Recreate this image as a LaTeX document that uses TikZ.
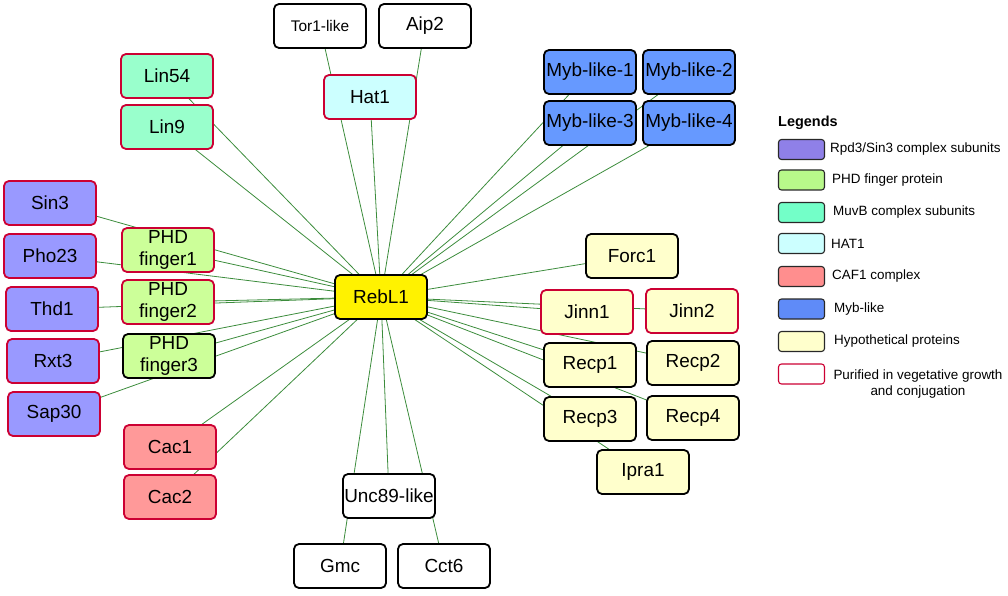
\documentclass[tikz,border=0pt]{standalone}
\usepackage{fontspec}
\setmainfont{Liberation Sans}
\usetikzlibrary{backgrounds}
\definecolor{edgegreen}{RGB}{60,140,60}
\definecolor{redb}{RGB}{204,0,51}
\definecolor{rpd}{RGB}{153,153,255}
\definecolor{rpdleg}{RGB}{143,128,232}
\definecolor{phd}{RGB}{204,255,153}
\definecolor{phdleg}{RGB}{184,248,138}
\definecolor{muvb}{RGB}{153,255,204}
\definecolor{muvbleg}{RGB}{115,255,200}
\definecolor{hat}{RGB}{204,255,255}
\definecolor{caf}{RGB}{255,153,153}
\definecolor{cafleg}{RGB}{255,142,142}
\definecolor{myb}{RGB}{102,153,255}
\definecolor{mybleg}{RGB}{95,139,248}
\definecolor{hyp}{RGB}{255,255,204}
\definecolor{legborder}{RGB}{40,40,40}
\tikzset{
  box/.style={draw=black, rounded corners=5bp, minimum width=92bp, minimum height=44bp,
    line width=1.8bp, font=\fontsize{19}{22}\selectfont, align=center, inner sep=0pt},
  redbox/.style={box, draw=redb},
  link/.style={draw=edgegreen, line width=0.8bp},
  legbox/.style={draw=legborder, rounded corners=3bp, minimum width=46bp, minimum height=20bp,
    line width=1.1bp, inner sep=0pt},
  legtext/.style={anchor=west, font=\fontsize{13.5}{16}\selectfont, inner sep=0pt},
}
\begin{document}
\begin{tikzpicture}[x=1bp, y=-1bp]
\useasboundingbox (0,0) rectangle (1008,596);
% centre
\node[box, fill=yellow] (rebl1) at (381,297) {RebL1};
% top
\node[box, fill=white, font=\fontsize{15.5}{18}\selectfont] (tor1) at (320,26) {Tor1-like};
\node[box, fill=white] (aip2) at (425,26) {Aip2};
\node[redbox, fill=hat] (hat1) at (370,97) {Hat1};
\node[redbox, fill=muvb] (lin54) at (167,76) {Lin54};
\node[redbox, fill=muvb] (lin9) at (167,127) {Lin9};
\node[box, fill=myb] (myb1) at (590,72) {Myb-like-1};
\node[box, fill=myb] (myb2) at (689,72) {Myb-like-2};
\node[box, fill=myb] (myb3) at (590,123) {Myb-like-3};
\node[box, fill=myb] (myb4) at (689,123) {Myb-like-4};
% left
\node[redbox, fill=rpd] (sin3) at (50,203) {Sin3};
\node[redbox, fill=rpd] (pho23) at (50,256) {Pho23};
\node[redbox, fill=rpd] (thd1) at (52,309) {Thd1};
\node[redbox, fill=rpd] (rxt3) at (53,361) {Rxt3};
\node[redbox, fill=rpd] (sap30) at (54,414) {Sap30};
\node[redbox, fill=phd] (phd1) at (168,250) {PHD\\finger1};
\node[redbox, fill=phd] (phd2) at (168,302) {PHD\\finger2};
\node[box, fill=phd] (phd3) at (169,356) {PHD\\finger3};
\node[redbox, fill=caf] (cac1) at (170,447) {Cac1};
\node[redbox, fill=caf] (cac2) at (170,497) {Cac2};
% bottom
\node[box, fill=white] (unc89) at (389,496) {Unc89-like};
\node[box, fill=white] (gmc) at (340,566) {Gmc};
\node[box, fill=white] (cct6) at (444,566) {Cct6};
% right
\node[box, fill=hyp] (forc1) at (632,256) {Forc1};
\node[redbox, fill=hyp] (jinn1) at (587,312) {Jinn1};
\node[redbox, fill=hyp] (jinn2) at (692,311) {Jinn2};
\node[box, fill=hyp] (recp1) at (590,365) {Recp1};
\node[box, fill=hyp] (recp2) at (693,363) {Recp2};
\node[box, fill=hyp] (recp3) at (590,419) {Recp3};
\node[box, fill=hyp] (recp4) at (693,418) {Recp4};
\node[box, fill=hyp] (ipra1) at (643,472) {Ipra1};
% connectors
\begin{scope}[on background layer]
\foreach \n in {tor1,aip2,hat1,lin54,lin9,myb1,myb2,myb3,myb4,sin3,pho23,thd1,rxt3,sap30,phd1,phd2,phd3,cac1,cac2,unc89,gmc,cct6,forc1,jinn1,jinn2,recp1,recp2,recp3,recp4,ipra1}
  \draw[link] (rebl1.center) -- (\n.center);
\end{scope}
% legend
\node[anchor=west, font=\bfseries\fontsize{14.5}{17}\selectfont, inner sep=0pt] (legtitle) at (778,123) {Legends};
\node[legbox, fill=rpdleg] (l1) at (801.5,149.5) {};
\node[legtext] (t1) at (830,149.5) {Rpd3/Sin3 complex subunits};
\node[legbox, fill=phdleg] (l2) at (801.5,180) {};
\node[legtext] (t2) at (832,180) {PHD finger protein};
\node[legbox, fill=muvbleg] (l3) at (801.5,212.5) {};
\node[legtext] (t3) at (833,212.5) {MuvB complex subunits};
\node[legbox, fill=hat] (l4) at (801.5,243.5) {};
\node[legtext] (t4) at (831,243.5) {HAT1};
\node[legbox, fill=cafleg] (l5) at (801.5,276.5) {};
\node[legtext] (t5) at (832,276.5) {CAF1 complex};
\node[legbox, fill=mybleg] (l6) at (801.5,309) {};
\node[legtext] (t6) at (834,309) {Myb-like};
\node[legbox, fill=hyp] (l7) at (801.5,341.5) {};
\node[legtext] (t7) at (834,341.5) {Hypothetical proteins};
\node[legbox, draw=redb, fill=white] (l8) at (801.5,374) {};
\node[font=\fontsize{13.5}{16}\selectfont, align=center, inner sep=0pt] (t8) at (918,384) {Purified in vegetative growth\\and conjugation};
\end{tikzpicture}
\end{document}
